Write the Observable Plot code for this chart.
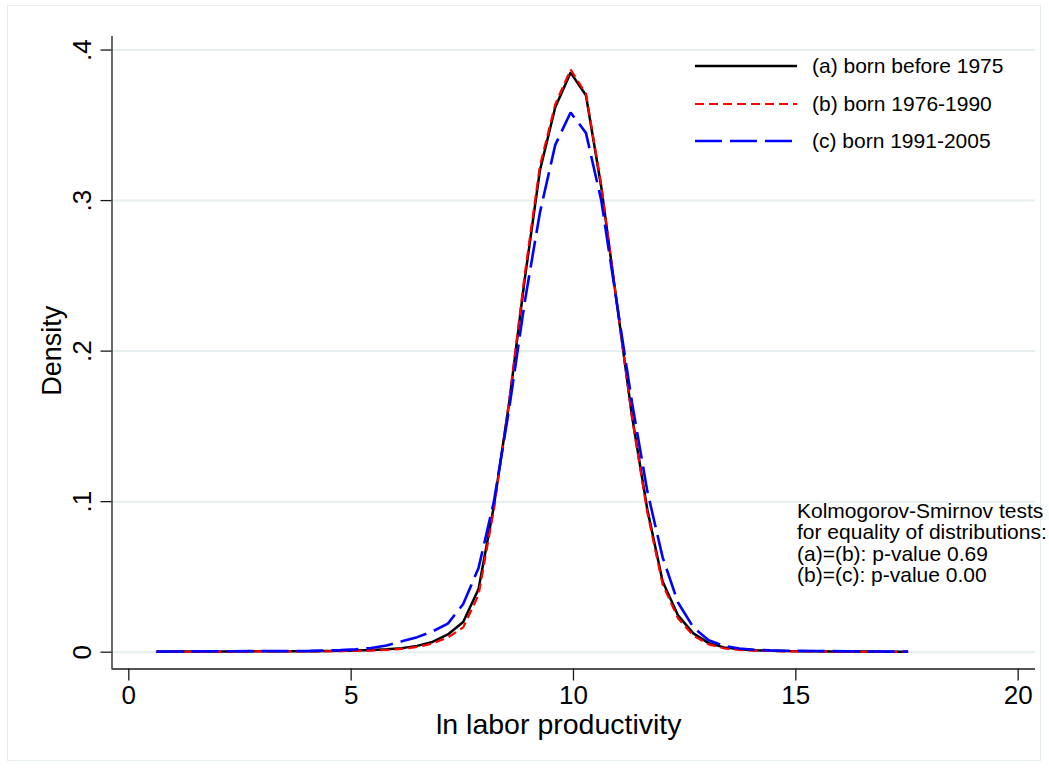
<!DOCTYPE html>
<html>
<head>
<meta charset="utf-8">
<script src="https://cdn.jsdelivr.net/npm/d3@7"></script>
<script src="https://cdn.jsdelivr.net/npm/@observablehq/plot@0.6"></script>
<style>
  body { margin: 0; background: #fff; font-family: "Liberation Sans", Arial, Helvetica, sans-serif; }
  #wrap { position: relative; width: 1049px; height: 769px; overflow: hidden; background: #fff; }
  #frame { position: absolute; left: 7px; top: 5px; width: 1034px; height: 756px; box-sizing: border-box; border: 1.5px solid #e6edf0; }
  #chart { position: absolute; left: 0; top: 0; }
  #legend { position: absolute; left: 695px; top: 54px; }
  .row { display: flex; align-items: center; height: 24px; margin-bottom: 13.5px; }
  .row span { margin-left: 15px; font-size: 21px; line-height: 24px; color: #000; white-space: nowrap; }
  #note { position: absolute; left: 797px; top: 499.5px; font-size: 21px; line-height: 21.5px; color: #000; white-space: nowrap; }
</style>
</head>
<body>
<div id="wrap">
  <div id="frame"></div>
  <div id="chart"></div>
  <div id="legend"></div>
  <div id="note"></div>
</div>
<script>
// ---- data ----
const xGrid = [0.62, 0.965, 1.31, 1.655, 2.00, 2.345, 2.69, 3.035, 3.38, 3.725,
  4.07, 4.415, 4.76, 5.105, 5.45, 5.795, 6.14, 6.485, 6.83, 7.175,
  7.52, 7.865, 8.21, 8.555, 8.90, 9.245, 9.59, 9.935, 10.28, 10.625,
  10.97, 11.315, 11.66, 12.005, 12.35, 12.695, 13.04, 13.385, 13.73, 14.075,
  14.42, 14.765, 15.11, 15.455, 15.80, 16.145, 16.49, 16.835, 17.18, 17.525];

// (a) born before 1975
const densA = [0.0003, 0.0004, 0.0004, 0.0005, 0.0005, 0.0005, 0.0006, 0.0007, 0.0006, 0.0006,
  0.0007, 0.0008, 0.0009, 0.0011, 0.0014, 0.0019, 0.0027, 0.0042, 0.0068, 0.0118,
  0.0200, 0.0420, 0.0970, 0.1660, 0.2470, 0.3200, 0.3620, 0.3850, 0.3700, 0.3090,
  0.2330, 0.1570, 0.0950, 0.0470, 0.0245, 0.0125, 0.0060, 0.0032, 0.0019, 0.0013,
  0.0010, 0.0008, 0.0007, 0.0006, 0.0005, 0.0005, 0.0004, 0.0004, 0.0003, 0.0003];

// (b) born 1976-1990
const densB = [0.0002, 0.0003, 0.0003, 0.0004, 0.0004, 0.0004, 0.0005, 0.0005, 0.0005, 0.0005,
  0.0006, 0.0006, 0.0007, 0.0009, 0.0011, 0.0015, 0.0022, 0.0035, 0.0058, 0.0098,
  0.0165, 0.0380, 0.0950, 0.1670, 0.2500, 0.3230, 0.3640, 0.3870, 0.3710, 0.3100,
  0.2330, 0.1560, 0.0930, 0.0450, 0.0225, 0.0110, 0.0052, 0.0026, 0.0015, 0.0010,
  0.0008, 0.0006, 0.0005, 0.0005, 0.0004, 0.0004, 0.0003, 0.0003, 0.0002, 0.0002];

// (c) born 1991-2005
const densC = [0.0004, 0.0005, 0.0005, 0.0006, 0.0006, 0.0006, 0.0007, 0.0008, 0.0007, 0.0008,
  0.0009, 0.0011, 0.0014, 0.0019, 0.0028, 0.0045, 0.0072, 0.0100, 0.0138, 0.0190,
  0.0320, 0.0560, 0.1000, 0.1620, 0.2320, 0.2920, 0.3370, 0.3585, 0.3450, 0.3000,
  0.2330, 0.1660, 0.1070, 0.0630, 0.0330, 0.0165, 0.0080, 0.0042, 0.0025, 0.0016,
  0.0012, 0.0010, 0.0009, 0.0008, 0.0007, 0.0006, 0.0005, 0.0005, 0.0004, 0.0004];

const seriesNames = ["(a) born before 1975", "(b) born 1976-1990", "(c) born 1991-2005"];
const xTicks = [0, 5, 10, 15, 20];
const yTicks = [0, 0.1, 0.2, 0.3, 0.4];
const yTickLabels = ["0", ".1", ".2", ".3", ".4"];
const xTitle = "ln labor productivity";
const yTitle = "Density";
const noteLines = ["Kolmogorov-Smirnov tests", "for equality of distributions:", "(a)=(b): p-value 0.69", "(b)=(c): p-value 0.00"];

// ---- styles ----
const styles = [
  {stroke: "#000000", strokeWidth: 2.5, dash: null},
  {stroke: "#ff0000", strokeWidth: 2.2, dash: "9,5"},
  {stroke: "#0000ff", strokeWidth: 2.6, dash: "27,8"}
];
const densities = [densA, densB, densC];
const tables = densities.map(d => xGrid.map((x, i) => ({x, y: d[i]})));

const xDomain = [-0.378, 20.39];
const yDomain = [-0.01116, 0.409];
const font = "'Liberation Sans', Arial, Helvetica, sans-serif";

const chart = Plot.plot({
  width: 1049,
  height: 769,
  marginLeft: 111.5,
  marginRight: 14,
  marginTop: 36,
  marginBottom: 100.5,
  x: {domain: xDomain},
  y: {domain: yDomain},
  style: {fontFamily: font, background: "transparent", color: "#000", overflow: "visible"},
  marks: [
    Plot.gridY(yTicks, {stroke: "#e6eef0", strokeOpacity: 1, strokeWidth: 2}),
    ...tables.map((t, k) => Plot.line(t, {
      x: "x", y: "y",
      stroke: styles[k].stroke,
      strokeWidth: styles[k].strokeWidth,
      strokeDasharray: styles[k].dash,
      strokeLinejoin: "miter",
      strokeLinecap: "butt"
    })),
    Plot.ruleX([xDomain[0]], {stroke: "#1a1a1a", strokeWidth: 1.3}),
    Plot.ruleY([yDomain[0]], {stroke: "#1a1a1a", strokeWidth: 1.3}),
    Plot.axisX(xTicks, {tickSize: 12, tickPadding: 5, fontSize: 26, label: null, stroke: "#1a1a1a", strokeWidth: 1.3}),
    Plot.axisY(yTicks, {
      tickSize: 11, tickPadding: 10.5, tickRotate: -90, fontSize: 26, label: null,
      stroke: "#1a1a1a", strokeWidth: 1.3,
      tickFormat: (d) => yTickLabels[yTicks.indexOf(d)]
    }),
    Plot.text([xTitle], {frameAnchor: "bottom", text: d => d, dy: 65, dx: -15, lineAnchor: "bottom", fontSize: 28.5, fill: "#000"}),
    Plot.text([yTitle], {frameAnchor: "left", text: d => d, dx: -51.5, dy: -2, rotate: -90, lineAnchor: "bottom", textAnchor: "middle", fontSize: 27, fill: "#000"})
  ]
});
document.getElementById("chart").appendChild(chart);

// ---- legend ----
const legend = document.getElementById("legend");
seriesNames.forEach((name, k) => {
  const row = document.createElement("div");
  row.className = "row";
  const s = styles[k];
  row.innerHTML = `<svg width="102" height="24"><line x1="0" x2="102" y1="12" y2="12" stroke="${s.stroke}" stroke-width="${s.strokeWidth}" ${s.dash ? `stroke-dasharray="${s.dash}"` : ""}/></svg><span>${name}</span>`;
  legend.appendChild(row);
});

// ---- note ----
document.getElementById("note").innerHTML = noteLines.map(l => `<div>${l}</div>`).join("");
</script>
</body>
</html>
